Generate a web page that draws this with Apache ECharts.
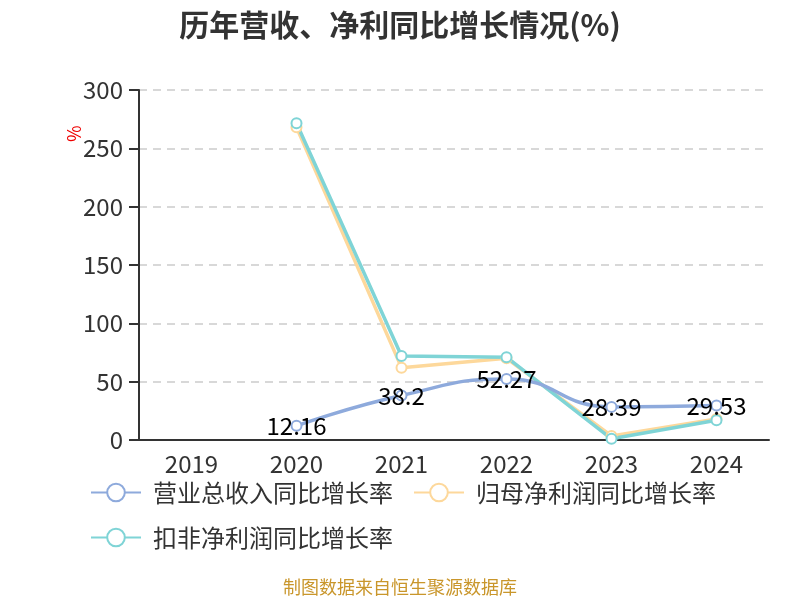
<!DOCTYPE html>
<html><head><meta charset="utf-8">
<script src="https://cdn.jsdelivr.net/npm/echarts@6/dist/echarts.min.js"></script>
<style>html,body{margin:0;padding:0;background:#fff}#c{width:800px;height:600px}</style>
</head><body><div id="c"></div>
<script>
const years = ['2019','2020','2021','2022','2023','2024'];
const revenueGrowth = [null, 12.16, 38.2, 52.27, 28.39, 29.53];
const parentProfitGrowth = [null, 268, 62, 70, 3.5, 18];
const deductedProfitGrowth = [null, 271.5, 72, 71, 1, 17];
const yTicks = [0, 300, 50];

const chart = echarts.init(document.getElementById('c'), null, {renderer:'canvas'});
const font = '"Noto Sans CJK SC","Noto Sans",sans-serif';
chart.setOption({
  animation:false,
  backgroundColor:'#fff',
  title:{text:'历年营收、净利同比增长情况(%)',left:'center',top:5,
    textStyle:{fontSize:30,fontWeight:'bold',color:'#333',fontFamily:font}},
  grid:{left:139,right:31,top:90,bottom:160},
  graphic:[
    {type:'text',x:65,y:142,rotation:Math.PI/2,style:{text:'%',fill:'#e00',fontSize:18,fontFamily:font}},
    {type:'text',left:'center',top:578,style:{text:'制图数据来自恒生聚源数据库',fill:'#c9962b',fontSize:18,fontFamily:font}}
  ],
  legend:{left:90,top:480,width:650,itemWidth:50,itemHeight:22,itemGap:20,padding:0,
    textStyle:{fontSize:24,lineHeight:25,color:'#333',fontFamily:font,padding:[0,0,0,7]},
    data:['营业总收入同比增长率','归母净利润同比增长率','扣非净利润同比增长率']},
  xAxis:{type:'category',data:years,
    axisLine:{lineStyle:{color:'#333',width:2}},
    axisTick:{length:10,lineStyle:{color:'#333',width:2}},
    axisLabel:{fontSize:24,color:'#333',margin:12,fontFamily:font}},
  yAxis:{type:'value',min:yTicks[0],max:yTicks[1],interval:yTicks[2],
    axisLine:{show:true,lineStyle:{color:'#333',width:2}},
    axisTick:{show:true,length:10,lineStyle:{color:'#333',width:2}},
    axisLabel:{fontSize:24,color:'#333',margin:16,fontFamily:font},
    splitLine:{lineStyle:{type:[8,6],color:'#ccc',width:1.5}}},
  series:[
    {name:'营业总收入同比增长率',type:'line',data:revenueGrowth,smooth:true,
      symbol:'emptyCircle',symbolSize:10,color:'#8eaadc',lineStyle:{width:3.5},z:3,
      label:{show:true,position:'inside',fontSize:24,color:'#000',fontFamily:font}},
    {name:'归母净利润同比增长率',type:'line',data:parentProfitGrowth,
      symbol:'emptyCircle',symbolSize:10,color:'#fdd89b',lineStyle:{width:3.5},z:2},
    {name:'扣非净利润同比增长率',type:'line',data:deductedProfitGrowth,
      symbol:'emptyCircle',symbolSize:10,color:'#7fd4d6',lineStyle:{width:3.5},z:2}
  ]
});
</script></body></html>
